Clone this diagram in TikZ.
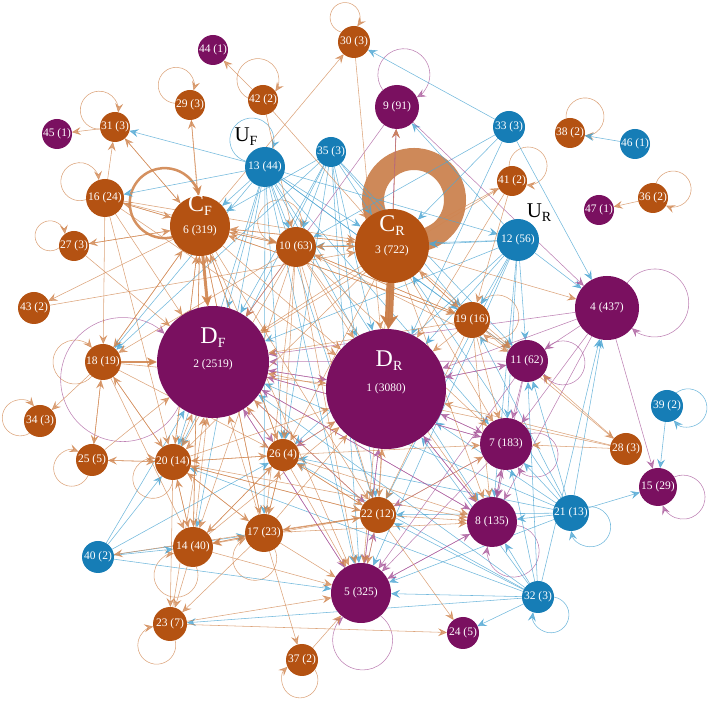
\documentclass[tikz,border=0pt]{standalone}
\usepackage{fontspec}
\setmainfont{Liberation Serif}
\usetikzlibrary{arrows.meta}
\definecolor{cpur}{HTML}{7A1060}
\definecolor{cora}{HTML}{B45212}
\definecolor{cblu}{HTML}{167DB6}
\definecolor{eora}{HTML}{D0854F}
\definecolor{eblu}{HTML}{4EA6D3}
\definecolor{epur}{HTML}{A8579A}
\definecolor{ringc}{HTML}{C97C47}
\pgfdeclarelayer{bg}
\pgfsetlayers{bg,main}
\tikzset{
 vtx/.style={circle, inner sep=0pt, outer sep=0pt, text=white, font=\fontsize{11.5}{11.5}\selectfont},
 vd/.style={vtx, fill=cpur}, vc/.style={vtx, fill=cora}, vu/.style={vtx, fill=cblu},
 tipa/.style={-{Stealth[length=9pt,width=8pt,inset=3.5pt]}},
 eo/.style={tipa, draw=eora, line width=0.55pt, opacity=0.75},
 eb/.style={tipa, draw=eblu, line width=0.55pt, opacity=0.8},
 ep/.style={tipa, draw=epur, line width=0.55pt, opacity=0.75},
 biglab/.style={text=white, inner sep=0pt, font=\fontsize{24}{24}\selectfont},
 numlab/.style={text=white, inner sep=0pt, font=\fontsize{11.5}{11.5}\selectfont},
 ulab/.style={text=black, inner sep=0pt, font=\fontsize{21}{21}\selectfont},
}
\newcommand\subl[2]{#1\raisebox{-4pt}{\fontsize{14}{14}\selectfont #2}}
% self loop: x y r angle D R style
\newcommand\selfloop[7]{%
 \pgfmathsetmacro\lix{((#5)*(#5)+(#3)*(#3)-(#6)*(#6))/(2*(#5))}%
 \pgfmathsetmacro\liy{sqrt(max((#3)*(#3)-\lix*\lix,0))}%
 \pgfmathsetmacro\lph{atan2(\liy,\lix-(#5))}%
 \pgfmathsetmacro\lcx{#1+(#5)*cos(#4)}%
 \pgfmathsetmacro\lcy{#2+(#5)*sin(#4)}%
 \pgfmathsetmacro\lsa{#4+\lph}%
 \pgfmathsetmacro\lea{#4-\lph}%
 \draw[#7, fill=none] (\lcx,\lcy) ++(\lsa:#6) arc[start angle=\lsa, end angle=\lea, radius=#6];%
}
\begin{document}
\begin{tikzpicture}[x=1pt,y=1pt]
\useasboundingbox (0,0) rectangle (708,700);
% nodes
\node[vd, minimum size=120] (n1) at (386,311) {};
\node[vd, minimum size=112] (n2) at (213,338) {};
\node[vc, minimum size=74] (n3) at (392,454) {};
\node[vd, minimum size=64] (n4) at (607,392) {4 (437)};
\node[vd, minimum size=60] (n5) at (361,107) {5 (325)};
\node[vc, minimum size=60] (n6) at (200,474) {};
\node[vd, minimum size=52] (n7) at (506,256) {7 (183)};
\node[vd, minimum size=50] (n8) at (492,178) {8 (135)};
\node[vd, minimum size=44] (n9) at (397,593) {9 (91)};
\node[vc, minimum size=40] (n10) at (296,453) {10 (63)};
\node[vd, minimum size=42] (n11) at (527,339) {11 (62)};
\node[vu, minimum size=42] (n12) at (518,460) {12 (56)};
\node[vu, minimum size=40] (n13) at (265,533) {13 (44)};
\node[vc, minimum size=40] (n14) at (193,153) {14 (40)};
\node[vd, minimum size=38] (n15) at (658,213) {15 (29)};
\node[vc, minimum size=38] (n16) at (105,502) {16 (24)};
\node[vc, minimum size=38] (n17) at (264,167) {17 (23)};
\node[vc, minimum size=36] (n18) at (103,338) {18 (19)};
\node[vc, minimum size=36] (n19) at (472,380) {19 (16)};
\node[vc, minimum size=36] (n20) at (173,238) {20 (14)};
\node[vu, minimum size=36] (n21) at (571,187) {21 (13)};
\node[vc, minimum size=36] (n22) at (378,185) {22 (12)};
\node[vc, minimum size=34] (n23) at (170,76) {23 (7)};
\node[vd, minimum size=32] (n24) at (463,67) {24 (5)};
\node[vc, minimum size=32] (n25) at (92,240) {25 (5)};
\node[vc, minimum size=32] (n26) at (283,245) {26 (4)};
\node[vc, minimum size=30] (n27) at (74,454) {27 (3)};
\node[vc, minimum size=32] (n28) at (626,251) {28 (3)};
\node[vc, minimum size=30] (n29) at (190,595) {29 (3)};
\node[vc, minimum size=32] (n30) at (354,658) {30 (3)};
\node[vc, minimum size=30] (n31) at (115,573) {31 (3)};
\node[vu, minimum size=32] (n32) at (538,103) {32 (3)};
\node[vu, minimum size=32] (n33) at (509,573) {33 (3)};
\node[vc, minimum size=32] (n34) at (40,279) {34 (3)};
\node[vu, minimum size=30] (n35) at (331,548) {35 (3)};
\node[vc, minimum size=30] (n36) at (653,502) {36 (2)};
\node[vc, minimum size=32] (n37) at (302,40) {37 (2)};
\node[vc, minimum size=30] (n38) at (570,567) {38 (2)};
\node[vu, minimum size=32] (n39) at (667,294) {39 (2)};
\node[vu, minimum size=32] (n40) at (98,143) {40 (2)};
\node[vc, minimum size=30] (n41) at (512,519) {41 (2)};
\node[vc, minimum size=30] (n42) at (263,600) {42 (2)};
\node[vc, minimum size=32] (n43) at (34,392) {43 (2)};
\node[vd, minimum size=30] (n44) at (213,650) {44 (1)};
\node[vd, minimum size=30] (n45) at (57,566) {45 (1)};
\node[vu, minimum size=30] (n46) at (635,556) {46 (1)};
\node[vd, minimum size=30] (n47) at (599,490) {47 (1)};
% big labels
\node[biglab] (l1a) at (389,339) {\subl{D}{R}};
\node[numlab] (l1b) at (386,311) {1 (3080)};
\node[biglab] (l2a) at (213,362) {\subl{D}{F}};
\node[numlab] (l2b) at (213,335) {2 (2519)};
\node[biglab] (l3a) at (392,474) {\subl{C}{R}};
\node[numlab] (l3b) at (392,449) {3 (722)};
\node[biglab] (l6a) at (200,494) {\subl{C}{F}};
\node[numlab] (l6b) at (200,469) {6 (319)};
\node[ulab] (uf) at (246,563) {\subl{U}{F}};
\node[ulab] (ur) at (539,487) {\subl{U}{R}};
\begin{pgfonlayer}{bg}
% thick C_R ring
\draw[draw=ringc, line width=22pt, opacity=0.9] (414,500) circle[radius=41];
% self loops
\selfloop{354}{658}{16}{110}{26}{15}{eo}
\selfloop{263}{600}{15}{104}{21}{21}{eo}
\selfloop{190}{595}{15}{125}{24}{18}{eo}
\selfloop{115}{573}{15}{133}{23}{19}{eo}
\selfloop{105}{502}{19}{147}{30}{19}{eo}
\selfloop{74}{454}{15}{157}{26}{15}{eo}
\selfloop{397}{593}{22}{78}{33}{26}{ep}
\selfloop{570}{567}{15}{47}{22}{19}{eo}
\selfloop{512}{519}{15}{43}{22}{19}{eo}
\selfloop{653}{502}{15}{24}{22}{18}{eo}
\selfloop{265}{533}{20}{116}{30}{22}{eb}
\selfloop{607}{392}{32}{6}{48}{34}{ep}
\selfloop{527}{339}{21}{-3}{36}{22}{ep}
\selfloop{472}{380}{18}{7}{25}{22}{eo}
\selfloop{667}{294}{16}{-5}{21}{19}{eb}
\selfloop{103}{338}{18}{180}{28}{22}{eo}
\selfloop{213}{338}{56}{191}{92}{62}{ep}
\selfloop{40}{279}{16}{171}{20}{18}{eo}
\selfloop{92}{240}{16}{202}{22}{18}{eo}
\selfloop{173}{238}{18}{219}{26}{20}{eo}
\selfloop{193}{153}{20}{239}{33}{22}{eo}
\selfloop{264}{167}{19}{250}{27}{22}{eo}
\selfloop{170}{76}{17}{238}{25}{19}{eo}
\selfloop{302}{40}{16}{264}{20}{18}{eo}
\selfloop{361}{107}{30}{272}{47}{30}{ep}
\selfloop{492}{178}{25}{306}{36}{26}{ep}
\selfloop{506}{256}{26}{340}{32}{22}{ep}
\selfloop{571}{187}{18}{325}{24}{20}{eb}
\selfloop{538}{103}{16}{306}{22}{18}{eb}
\selfloop{658}{213}{19}{338}{27}{22}{ep}
\selfloop{296}{453}{20}{123}{30}{22}{eo}
\selfloop{200}{474}{30}{147}{42}{35}{eo, line width=2.5pt, opacity=0.9, -{Stealth[length=10pt,width=9pt,inset=3pt]}}
% blue edges
\foreach \a/\b in {13/31,13/16,13/6,13/10,13/2,13/18,13/20,13/26,13/1,13/3,13/12,13/22,13/5,13/14,13/17,13/7,13/11,13/19,13/8,
35/6,35/10,35/2,35/1,35/3,35/26,35/22,35/5,35/19,35/11,35/20,35/18,
12/4,12/19,12/11,12/1,12/3,12/7,12/8,12/10,12/2,12/26,12/22,12/5,12/9,
33/30,33/4,33/3,33/1,33/10,
21/8,21/15,21/4,21/11,21/7,21/1,21/5,21/22,21/2,21/3,21/26,21/19,
32/5,32/24,32/8,32/7,32/1,32/4,32/11,32/22,32/2,32/26,32/20,32/23,
40/20,40/17,40/5,40/26,40/2,40/14,46/38,39/15}
  \draw[eb] (n\a) -- (n\b);
% purple edges
\foreach \a/\b in {9/2,9/1,9/4,4/11,4/15,4/7,4/8,4/1,4/2,
11/1,11/7,11/2,11/8,11/5,7/1,7/8,7/2,7/5,7/22,
8/1,8/5,8/7,8/2,5/1,5/8,5/2,5/22,
1/2,1/5,1/7,1/8,1/11,1/26,1/9,2/1,2/5,2/26,2/22,2/7,2/8}
  \draw[ep] (n\a) -- (n\b);
% orange edges
\foreach \a/\b in {6/30,6/29,6/31,6/16,6/10,6/1,6/3,6/18,6/20,6/26,6/22,6/14,6/17,6/43,6/19,6/5,6/27,
3/2,3/6,3/10,3/19,3/11,3/7,3/8,3/22,3/5,3/41,3/9,3/26,3/20,3/4,
10/2,10/1,10/3,10/6,10/26,10/22,10/20,10/17,10/14,10/18,10/5,10/7,10/8,10/19,10/11,
16/6,16/31,16/2,16/18,16/20,16/1,16/10,16/3,
18/34,18/25,18/6,18/20,18/1,18/14,18/26,
19/1,19/11,19/7,19/2,19/3,19/8,19/22,19/28,19/6,19/10,
20/2,20/1,20/6,20/14,20/26,20/22,20/18,20/17,20/23,20/25,20/8,
26/2,26/1,26/22,26/20,26/17,26/14,26/6,26/8,26/5,26/7,
22/1,22/2,22/8,22/5,22/7,22/17,22/24,22/26,22/20,22/40,22/14,
17/14,17/5,17/2,17/1,17/26,17/22,17/20,17/23,17/37,17/8,17/6,
14/17,14/20,14/2,14/23,14/26,14/1,14/5,14/6,
23/2,23/5,23/24,41/1,41/19,41/2,42/44,42/10,42/3,
28/1,28/7,28/2,28/11,25/2,25/20,25/18,27/6,27/2,43/3,37/5,36/47,31/45,31/6,30/1,29/2}
  \draw[eo] (n\a) -- (n\b);
% thick edges
\draw[eo, line width=3pt, opacity=0.9, -{Stealth[length=11pt,width=10pt,inset=3pt]}] (n6) -- (n2);
\draw[eo, line width=2pt, opacity=0.9, -{Stealth[length=10pt,width=9pt,inset=3pt]}] (n18) -- (n2);
\draw[draw=ringc, line width=8pt, opacity=0.95, -{Stealth[length=14pt,width=18pt,inset=4pt]}] (n3) -- (n1);
\end{pgfonlayer}
\end{tikzpicture}
\end{document}
